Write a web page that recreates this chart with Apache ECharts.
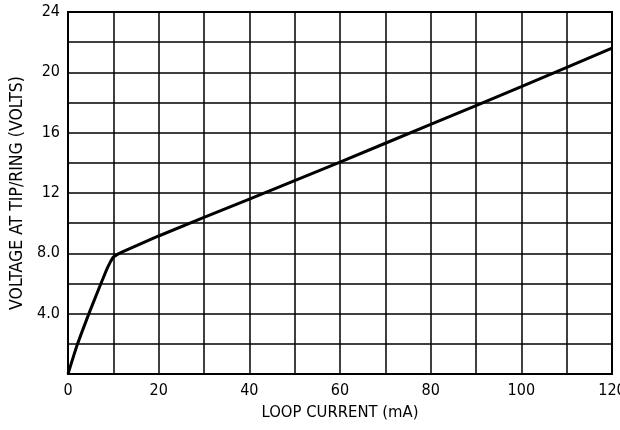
<!DOCTYPE html>
<html>
<head>
<meta charset="utf-8">
<script src="https://cdn.jsdelivr.net/npm/echarts@6/dist/echarts.min.js"></script>
<style>html,body{margin:0;padding:0;background:#fff}#c{width:620px;height:430px}</style>
</head>
<body>
<div id="c"></div>
<script>
const loopCurrent = [0, 2, 5, 7, 8.5, 9.3, 10, 11, 12, 20, 40, 60, 80, 100, 120];
const voltage     = [0, 1.9, 4.3, 5.8, 6.9, 7.4, 7.75, 7.95, 8.1, 9.15, 11.6, 14.05, 16.55, 19.05, 21.6];
const xTickLabels = {0: '0', 20: '20', 40: '40', 60: '60', 80: '80', 100: '100', 120: '120'};
const yTickLabels = {4: '4.0', 8: '8.0', 12: '12', 16: '16', 20: '20', 24: '24'};

const FONT = '"DejaVu Sans Condensed", "Liberation Sans Narrow", sans-serif';
const chart = echarts.init(document.getElementById('c'));
chart.setOption({
  animation: false,
  backgroundColor: '#fff',
  grid: {left: 68, right: 8, top: 12, bottom: 56, outerBoundsMode: 'none', containLabel: false,
    show: true, borderColor: '#000', borderWidth: 2, backgroundColor: 'transparent'},
  xAxis: {
    type: 'value', min: 0, max: 120, interval: 10,
    name: 'LOOP CURRENT (mA)', nameLocation: 'middle', nameGap: 25,
    nameTextStyle: {color: '#000', fontSize: 16.5, fontFamily: FONT},
    axisLine: {show: true, lineStyle: {color: '#000', width: 2}},
    axisTick: {show: false},
    axisLabel: {color: '#000', fontSize: 16, fontFamily: FONT, margin: 9,
      formatter: v => xTickLabels[v] !== undefined ? xTickLabels[v] : ''},
    splitLine: {show: true, lineStyle: {color: '#000', width: 1.5}}
  },
  yAxis: {
    type: 'value', min: 0, max: 24, interval: 2,
    name: 'VOLTAGE AT TIP/RING (VOLTS)', nameLocation: 'middle', nameGap: 38,
    nameTextStyle: {color: '#000', fontSize: 17.5, fontFamily: FONT},
    axisLine: {show: true, lineStyle: {color: '#000', width: 2}},
    axisTick: {show: false},
    axisLabel: {color: '#000', fontSize: 16, fontFamily: FONT, margin: 8,
      formatter: v => yTickLabels[v] !== undefined ? yTickLabels[v] : ''},
    splitLine: {show: true, lineStyle: {color: '#000', width: 1.5}}
  },
  series: [{
    type: 'line',
    data: loopCurrent.map((x, i) => [x, voltage[i]]),
    smooth: 0.15,
    showSymbol: false,
    lineStyle: {color: '#000', width: 3}
  }]
});
</script>
</body>
</html>
